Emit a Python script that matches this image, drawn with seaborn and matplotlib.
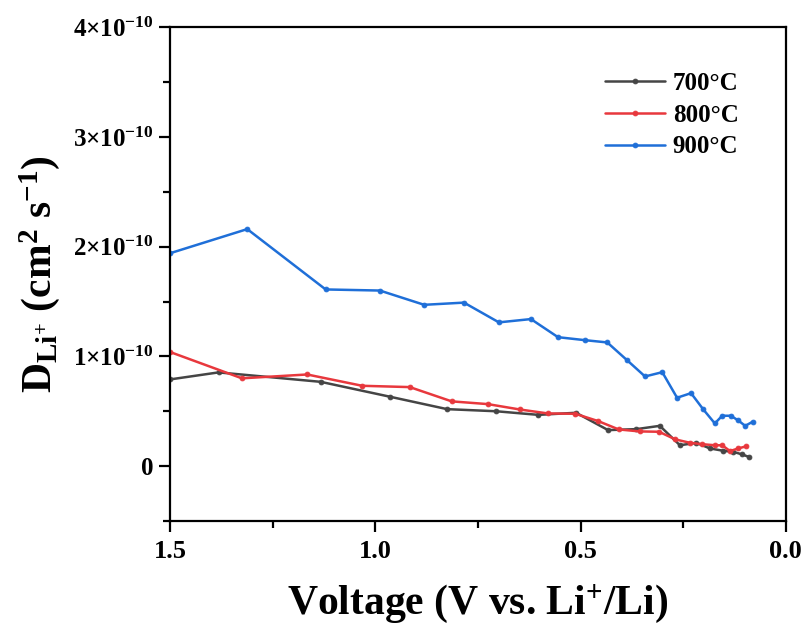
import numpy as np
import pandas as pd
import matplotlib
matplotlib.use("Agg")
import matplotlib.pyplot as plt
import seaborn as sns
from matplotlib.ticker import FixedLocator, MultipleLocator, FixedFormatter

# ---- data (D in units of 1e-10 cm^2 s^-1) ----
v_700 = [1.50, 1.382, 1.133, 0.964, 0.825, 0.706, 0.603, 0.511, 0.433, 0.364, 0.307,
         0.258, 0.218, 0.185, 0.153, 0.128, 0.106, 0.089]
d_700 = [0.79, 0.854, 0.768, 0.632, 0.519, 0.50, 0.467, 0.486, 0.328, 0.337, 0.367,
         0.19, 0.212, 0.161, 0.14, 0.13, 0.106, 0.082]

v_800 = [1.50, 1.325, 1.166, 1.032, 0.916, 0.814, 0.726, 0.648, 0.580, 0.513, 0.457,
         0.407, 0.356, 0.309, 0.269, 0.234, 0.205, 0.173, 0.155, 0.136, 0.116, 0.097]
d_800 = [1.04, 0.80, 0.835, 0.732, 0.72, 0.59, 0.565, 0.516, 0.48, 0.477, 0.41,
         0.334, 0.316, 0.313, 0.243, 0.213, 0.20, 0.19, 0.19, 0.137, 0.161, 0.18]

v_900 = [1.50, 1.312, 1.121, 0.989, 0.881, 0.784, 0.699, 0.621, 0.555, 0.490, 0.435,
         0.387, 0.343, 0.301, 0.265, 0.231, 0.201, 0.173, 0.155, 0.134, 0.116, 0.099, 0.081]
d_900 = [1.94, 2.16, 1.61, 1.60, 1.47, 1.49, 1.31, 1.34, 1.175, 1.148, 1.127,
         0.966, 0.817, 0.856, 0.623, 0.665, 0.516, 0.389, 0.459, 0.459, 0.416, 0.367, 0.404]

labels = ["700\u00b0C", "800\u00b0C", "900\u00b0C"]
colors = ["#454545", "#e8383d", "#1f6fd8"]

y_ticks = [0, 1, 2, 3, 4]
y_tick_labels = ["0", "1\u00d710$^{\u221210}$", "2\u00d710$^{\u221210}$",
                 "3\u00d710$^{\u221210}$", "4\u00d710$^{\u221210}$"]
x_ticks = [1.5, 1.0, 0.5, 0.0]
x_tick_labels = ["1.5", "1.0", "0.5", "0.0"]

# ---- style ----
sns.set_theme(style="ticks")
plt.rcParams["font.family"] = ["Liberation Serif", "DejaVu Serif"]
plt.rcParams["font.weight"] = "bold"
plt.rcParams["text.color"] = "black"
plt.rcParams["axes.labelcolor"] = "black"
plt.rcParams["xtick.color"] = "black"
plt.rcParams["ytick.color"] = "black"
plt.rcParams["mathtext.fontset"] = "custom"
plt.rcParams["mathtext.rm"] = "Liberation Serif:bold"
plt.rcParams["mathtext.it"] = "Liberation Serif:italic:bold"
plt.rcParams["mathtext.bf"] = "Liberation Serif:bold"
plt.rcParams["mathtext.default"] = "rm"

fig = plt.figure(figsize=(8.06, 6.33), dpi=100)
ax = fig.add_axes([0.211, 0.177, 0.764, 0.780])

series = [(v_700, d_700), (v_800, d_800), (v_900, d_900)]
for (v, d), lab, c in zip(series, labels, colors):
    df = pd.DataFrame({"V": v, "D": np.array(d) * 1e-10})
    sns.lineplot(data=df, x="V", y="D", sort=False, estimator=None, ax=ax,
                 color=c, lw=1.8, marker="o", markersize=3.5,
                 markeredgewidth=0.6, markeredgecolor=c, label=lab)

ax.set_xlim(1.5, 0.0)
ax.set_ylim(-0.5e-10, 4e-10)

ax.xaxis.set_major_locator(FixedLocator(x_ticks))
ax.xaxis.set_major_formatter(FixedFormatter(x_tick_labels))
ax.xaxis.set_minor_locator(MultipleLocator(0.25))
ax.yaxis.set_major_locator(FixedLocator([t * 1e-10 for t in y_ticks]))
ax.yaxis.set_major_formatter(FixedFormatter(y_tick_labels))
ax.yaxis.set_minor_locator(MultipleLocator(0.5e-10))

ax.tick_params(axis="both", which="major", direction="out", length=8, width=1.6,
               top=False, right=False, colors="black")
ax.tick_params(axis="both", which="minor", direction="out", length=5, width=1.6,
               top=False, right=False, colors="black")
ax.tick_params(axis="x", labelsize=19, pad=6)
ax.tick_params(axis="y", labelsize=18, pad=4)
for lbl in ax.get_xticklabels() + ax.get_yticklabels():
    lbl.set_fontweight("bold")
for s in ax.spines.values():
    s.set_linewidth(1.6)
    s.set_color("black")

ax.set_xlabel(r"Voltage (V vs. Li$^{+}$/Li)", fontsize=30, fontweight="bold",
              labelpad=14, color="black")
ax.set_ylabel(r"D$_{\mathrm{Li}^{+}}$ (cm$^{2}$ s$^{-1}$)", fontsize=30,
              fontweight="bold", labelpad=8, color="black")

leg = ax.legend(loc="upper right", bbox_to_anchor=(0.96, 0.955), frameon=False,
                handlelength=2.4, labelspacing=0.35, handletextpad=0.3,
                prop={"family": "Liberation Serif", "weight": "bold", "size": 18})
for t in leg.get_texts():
    t.set_color("black")

fig.savefig("out.png", dpi=100)
